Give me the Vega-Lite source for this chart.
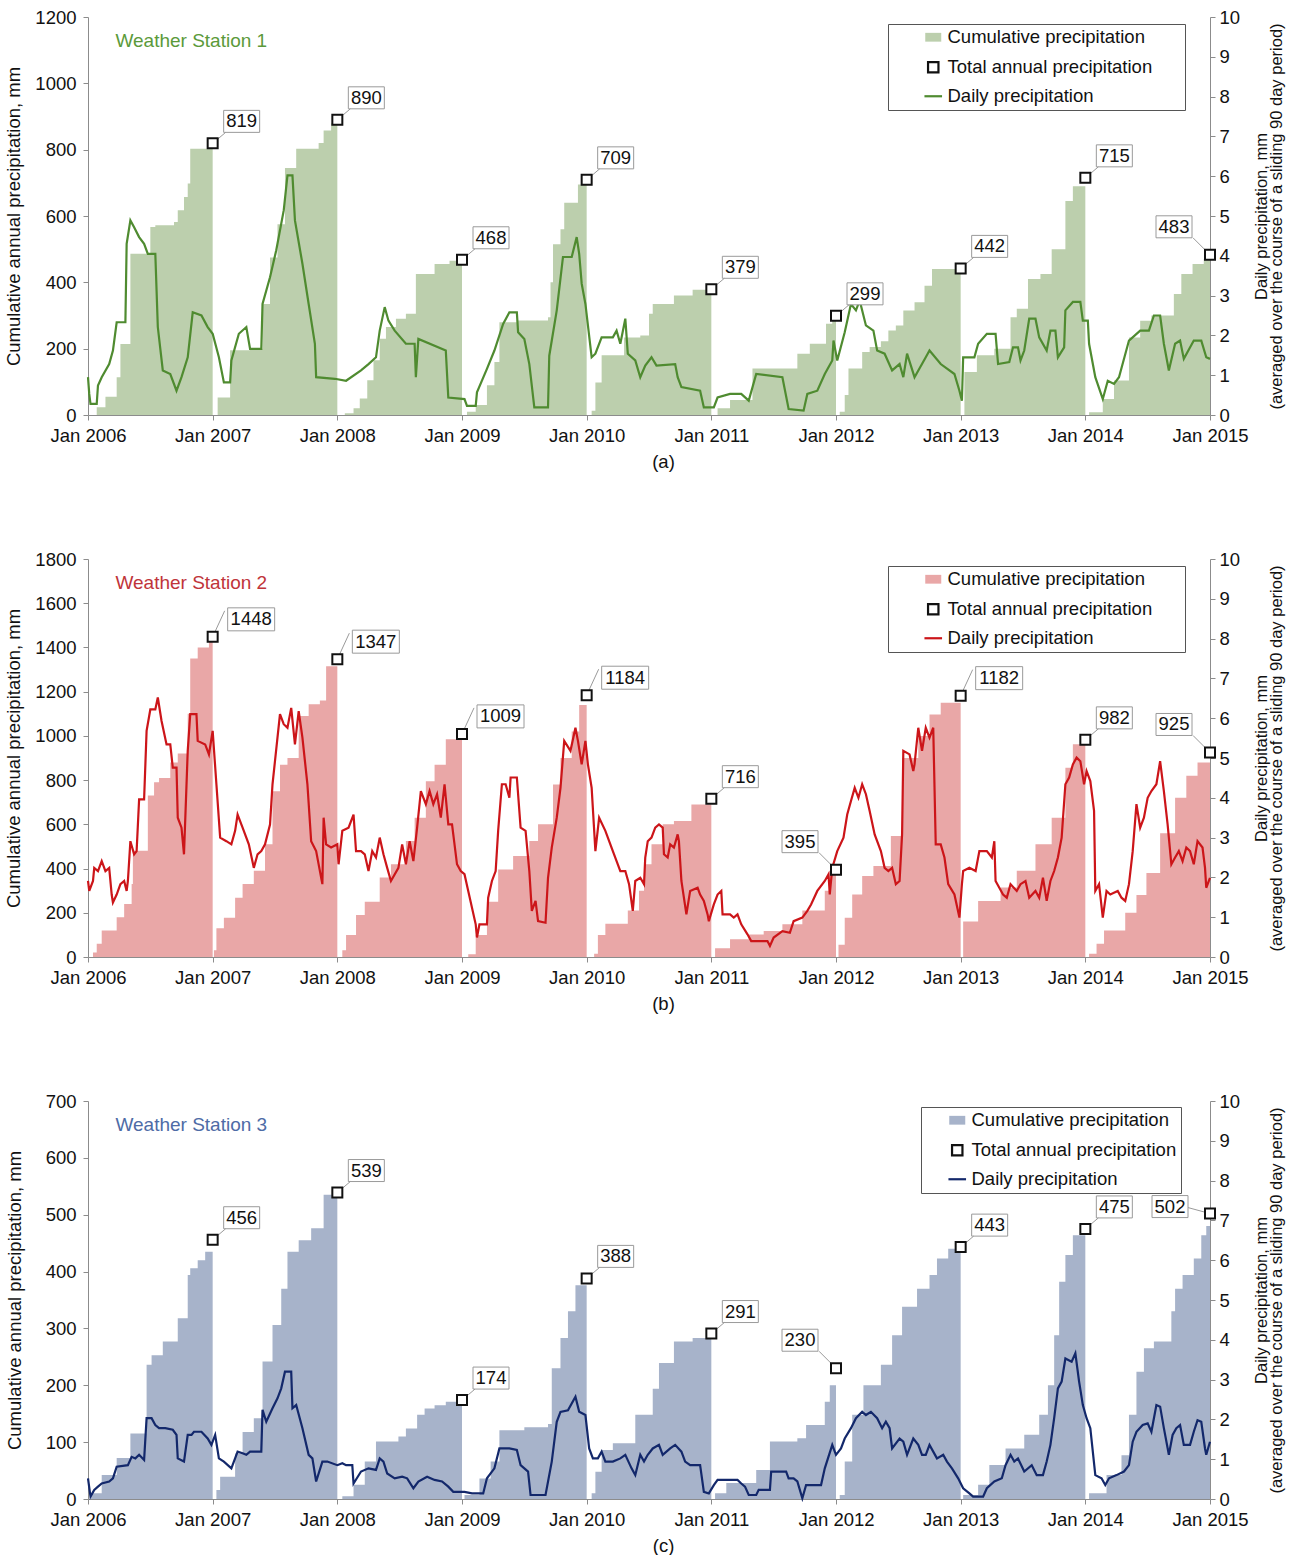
{
"$schema": "https://vega.github.io/schema/vega-lite/v6.json",
"padding": {"left": 4, "top": 8, "right": 0, "bottom": 0},
"spacing": 79,
"config": {
  "view": {"stroke": null},
  "font": "Liberation Sans",
  "axis": {"grid": false, "domainColor": "#8c8c8c", "tickColor": "#8c8c8c", "tickSize": 5, "labelFontSize": 18.5, "titleFontSize": 18.5, "labelColor": "#111111", "titleColor": "#111111", "titleFontWeight": "normal", "labelFont": "Liberation Sans", "titleFont": "Liberation Sans"},
  "legend": {"title": null, "labelFontSize": 18.5, "labelFont": "Liberation Sans", "labelColor": "#111111", "labelLimit": 600, "strokeColor": "#555555", "fillColor": "white", "padding": 4, "rowPadding": 10, "symbolSize": 256, "labelOffset": 5}
},
"datasets": {
"tot": [
{"s":1,"t":2007,"v":819},{"s":1,"t":2008,"v":890},{"s":1,"t":2009,"v":468},{"s":1,"t":2010,"v":709},{"s":1,"t":2011,"v":379},{"s":1,"t":2012,"v":299},{"s":1,"t":2013,"v":442},{"s":1,"t":2014,"v":715},{"s":1,"t":2015,"v":483},
{"s":2,"t":2007,"v":1448},{"s":2,"t":2008,"v":1347},{"s":2,"t":2009,"v":1009},{"s":2,"t":2010,"v":1184},{"s":2,"t":2011,"v":716},{"s":2,"t":2012,"v":395},{"s":2,"t":2013,"v":1182},{"s":2,"t":2014,"v":982},{"s":2,"t":2015,"v":925},
{"s":3,"t":2007,"v":456},{"s":3,"t":2008,"v":539},{"s":3,"t":2009,"v":174},{"s":3,"t":2010,"v":388},{"s":3,"t":2011,"v":291},{"s":3,"t":2012,"v":230},{"s":3,"t":2013,"v":443},{"s":3,"t":2014,"v":475},{"s":3,"t":2015,"v":502}
],
"cum": [
{"s":1,"t":2006,"c":0},{"s":1,"t":2006.07,"c":23},{"s":1,"t":2006.14,"c":55},{"s":1,"t":2006.23,"c":114},{"s":1,"t":2006.26,"c":214},{"s":1,"t":2006.34,"c":486},{"s":1,"t":2006.5,"c":567},{"s":1,"t":2006.54,"c":572},{"s":1,"t":2006.69,"c":582},{"s":1,"t":2006.72,"c":617},{"s":1,"t":2006.77,"c":657},{"s":1,"t":2006.8,"c":698},{"s":1,"t":2006.82,"c":803},
{"s":1,"t":2007,"c":0},{"s":1,"t":2007.04,"c":53},{"s":1,"t":2007.14,"c":195},{"s":1,"t":2007.3,"c":200},{"s":1,"t":2007.4,"c":335},{"s":1,"t":2007.46,"c":475},{"s":1,"t":2007.52,"c":575},{"s":1,"t":2007.58,"c":745},{"s":1,"t":2007.67,"c":803},{"s":1,"t":2007.85,"c":820},{"s":1,"t":2007.89,"c":858},{"s":1,"t":2007.95,"c":880},{"s":1,"t":2007.98,"c":890},
{"s":1,"t":2008,"c":0},{"s":1,"t":2008.06,"c":5},{"s":1,"t":2008.13,"c":20},{"s":1,"t":2008.18,"c":50},{"s":1,"t":2008.24,"c":105},{"s":1,"t":2008.29,"c":165},{"s":1,"t":2008.34,"c":230},{"s":1,"t":2008.39,"c":265},{"s":1,"t":2008.47,"c":290},{"s":1,"t":2008.55,"c":305},{"s":1,"t":2008.63,"c":425},{"s":1,"t":2008.78,"c":455},{"s":1,"t":2008.9,"c":465},
{"s":1,"t":2009,"c":0},{"s":1,"t":2009.04,"c":10},{"s":1,"t":2009.11,"c":30},{"s":1,"t":2009.2,"c":90},{"s":1,"t":2009.26,"c":160},{"s":1,"t":2009.3,"c":280},{"s":1,"t":2009.44,"c":285},{"s":1,"t":2009.69,"c":295},{"s":1,"t":2009.71,"c":400},{"s":1,"t":2009.73,"c":515},{"s":1,"t":2009.79,"c":560},{"s":1,"t":2009.82,"c":640},{"s":1,"t":2009.93,"c":695},{"s":1,"t":2009.97,"c":700},
{"s":1,"t":2010,"c":0},{"s":1,"t":2010.04,"c":13},{"s":1,"t":2010.07,"c":98},{"s":1,"t":2010.12,"c":180},{"s":1,"t":2010.3,"c":234},{"s":1,"t":2010.43,"c":240},{"s":1,"t":2010.5,"c":305},{"s":1,"t":2010.53,"c":335},{"s":1,"t":2010.7,"c":360},{"s":1,"t":2010.85,"c":378},
{"s":1,"t":2011,"c":0},{"s":1,"t":2011.05,"c":20},{"s":1,"t":2011.15,"c":45},{"s":1,"t":2011.33,"c":140},{"s":1,"t":2011.69,"c":185},{"s":1,"t":2011.79,"c":215},{"s":1,"t":2011.92,"c":275},{"s":1,"t":2011.97,"c":300},
{"s":1,"t":2012,"c":0},{"s":1,"t":2012.03,"c":10},{"s":1,"t":2012.07,"c":60},{"s":1,"t":2012.1,"c":140},{"s":1,"t":2012.21,"c":190},{"s":1,"t":2012.27,"c":205},{"s":1,"t":2012.36,"c":222},{"s":1,"t":2012.42,"c":255},{"s":1,"t":2012.48,"c":270},{"s":1,"t":2012.54,"c":315},{"s":1,"t":2012.63,"c":340},{"s":1,"t":2012.71,"c":390},{"s":1,"t":2012.77,"c":440},
{"s":1,"t":2013,"c":0},{"s":1,"t":2013.03,"c":130},{"s":1,"t":2013.13,"c":180},{"s":1,"t":2013.27,"c":200},{"s":1,"t":2013.4,"c":295},{"s":1,"t":2013.45,"c":320},{"s":1,"t":2013.54,"c":410},{"s":1,"t":2013.64,"c":425},{"s":1,"t":2013.73,"c":500},{"s":1,"t":2013.84,"c":645},{"s":1,"t":2013.9,"c":690},
{"s":1,"t":2014,"c":0},{"s":1,"t":2014.03,"c":8},{"s":1,"t":2014.14,"c":48},{"s":1,"t":2014.23,"c":104},{"s":1,"t":2014.35,"c":234},{"s":1,"t":2014.44,"c":284},{"s":1,"t":2014.53,"c":300},{"s":1,"t":2014.71,"c":365},{"s":1,"t":2014.77,"c":425},{"s":1,"t":2014.86,"c":455},{"s":1,"t":2014.95,"c":470},{"s":1,"t":2015,"c":475},
{"s":2,"t":2006,"c":0},{"s":2,"t":2006.04,"c":20},{"s":2,"t":2006.07,"c":60},{"s":2,"t":2006.11,"c":120},{"s":2,"t":2006.23,"c":180},{"s":2,"t":2006.29,"c":240},{"s":2,"t":2006.35,"c":330},{"s":2,"t":2006.36,"c":480},{"s":2,"t":2006.48,"c":730},{"s":2,"t":2006.53,"c":790},{"s":2,"t":2006.57,"c":810},{"s":2,"t":2006.66,"c":880},{"s":2,"t":2006.72,"c":920},{"s":2,"t":2006.8,"c":1100},{"s":2,"t":2006.82,"c":1350},{"s":2,"t":2006.88,"c":1400},{"s":2,"t":2006.97,"c":1430},
{"s":2,"t":2007,"c":0},{"s":2,"t":2007.01,"c":30},{"s":2,"t":2007.03,"c":130},{"s":2,"t":2007.09,"c":178},{"s":2,"t":2007.18,"c":268},{"s":2,"t":2007.24,"c":330},{"s":2,"t":2007.33,"c":390},{"s":2,"t":2007.42,"c":510},{"s":2,"t":2007.48,"c":750},{"s":2,"t":2007.54,"c":870},{"s":2,"t":2007.6,"c":900},{"s":2,"t":2007.69,"c":1090},{"s":2,"t":2007.77,"c":1143},{"s":2,"t":2007.86,"c":1160},{"s":2,"t":2007.91,"c":1315},
{"s":2,"t":2008,"c":0},{"s":2,"t":2008.04,"c":30},{"s":2,"t":2008.07,"c":100},{"s":2,"t":2008.15,"c":190},{"s":2,"t":2008.22,"c":250},{"s":2,"t":2008.34,"c":360},{"s":2,"t":2008.43,"c":420},{"s":2,"t":2008.55,"c":525},{"s":2,"t":2008.62,"c":630},{"s":2,"t":2008.71,"c":795},{"s":2,"t":2008.78,"c":870},{"s":2,"t":2008.87,"c":985},
{"s":2,"t":2009,"c":0},{"s":2,"t":2009.05,"c":12},{"s":2,"t":2009.11,"c":100},{"s":2,"t":2009.2,"c":250},{"s":2,"t":2009.29,"c":396},{"s":2,"t":2009.41,"c":457},{"s":2,"t":2009.54,"c":525},{"s":2,"t":2009.61,"c":600},{"s":2,"t":2009.73,"c":780},{"s":2,"t":2009.79,"c":900},{"s":2,"t":2009.88,"c":1020},{"s":2,"t":2009.94,"c":1140},
{"s":2,"t":2010,"c":0},{"s":2,"t":2010.06,"c":15},{"s":2,"t":2010.09,"c":100},{"s":2,"t":2010.15,"c":150},{"s":2,"t":2010.33,"c":210},{"s":2,"t":2010.42,"c":300},{"s":2,"t":2010.46,"c":420},{"s":2,"t":2010.52,"c":510},{"s":2,"t":2010.61,"c":600},{"s":2,"t":2010.7,"c":615},{"s":2,"t":2010.84,"c":690},
{"s":2,"t":2011,"c":0},{"s":2,"t":2011.03,"c":40},{"s":2,"t":2011.15,"c":80},{"s":2,"t":2011.3,"c":102},{"s":2,"t":2011.42,"c":118},{"s":2,"t":2011.57,"c":148},{"s":2,"t":2011.73,"c":210},{"s":2,"t":2011.91,"c":300},{"s":2,"t":2011.95,"c":390},
{"s":2,"t":2012,"c":0},{"s":2,"t":2012.02,"c":55},{"s":2,"t":2012.07,"c":178},{"s":2,"t":2012.13,"c":283},{"s":2,"t":2012.21,"c":366},{"s":2,"t":2012.3,"c":412},{"s":2,"t":2012.44,"c":547},{"s":2,"t":2012.53,"c":900},{"s":2,"t":2012.66,"c":1000},{"s":2,"t":2012.75,"c":1097},{"s":2,"t":2012.84,"c":1150},
{"s":2,"t":2013,"c":0},{"s":2,"t":2013.02,"c":160},{"s":2,"t":2013.14,"c":253},{"s":2,"t":2013.32,"c":314},{"s":2,"t":2013.45,"c":390},{"s":2,"t":2013.6,"c":510},{"s":2,"t":2013.73,"c":630},{"s":2,"t":2013.84,"c":856},{"s":2,"t":2013.9,"c":962},
{"s":2,"t":2014,"c":0},{"s":2,"t":2014.03,"c":15},{"s":2,"t":2014.09,"c":60},{"s":2,"t":2014.15,"c":120},{"s":2,"t":2014.32,"c":200},{"s":2,"t":2014.41,"c":280},{"s":2,"t":2014.49,"c":380},{"s":2,"t":2014.6,"c":560},{"s":2,"t":2014.72,"c":720},{"s":2,"t":2014.81,"c":820},{"s":2,"t":2014.9,"c":880},{"s":2,"t":2015,"c":900},
{"s":3,"t":2006,"c":0},{"s":3,"t":2006.02,"c":10},{"s":3,"t":2006.11,"c":42},{"s":3,"t":2006.23,"c":72},{"s":3,"t":2006.34,"c":115},{"s":3,"t":2006.47,"c":236},{"s":3,"t":2006.51,"c":253},{"s":3,"t":2006.6,"c":277},{"s":3,"t":2006.72,"c":318},{"s":3,"t":2006.8,"c":394},{"s":3,"t":2006.82,"c":406},{"s":3,"t":2006.88,"c":420},{"s":3,"t":2006.94,"c":435},
{"s":3,"t":2007,"c":0},{"s":3,"t":2007.03,"c":16},{"s":3,"t":2007.06,"c":39},{"s":3,"t":2007.18,"c":80},{"s":3,"t":2007.24,"c":118},{"s":3,"t":2007.33,"c":142},{"s":3,"t":2007.4,"c":242},{"s":3,"t":2007.48,"c":306},{"s":3,"t":2007.55,"c":370},{"s":3,"t":2007.6,"c":435},{"s":3,"t":2007.69,"c":455},{"s":3,"t":2007.79,"c":476},{"s":3,"t":2007.89,"c":535},
{"s":3,"t":2008,"c":0},{"s":3,"t":2008.04,"c":5},{"s":3,"t":2008.13,"c":25},{"s":3,"t":2008.22,"c":66},{"s":3,"t":2008.31,"c":101},{"s":3,"t":2008.49,"c":110},{"s":3,"t":2008.55,"c":124},{"s":3,"t":2008.64,"c":148},{"s":3,"t":2008.7,"c":159},{"s":3,"t":2008.78,"c":165},{"s":3,"t":2008.87,"c":171},
{"s":3,"t":2009,"c":0},{"s":3,"t":2009.02,"c":7},{"s":3,"t":2009.14,"c":36},{"s":3,"t":2009.23,"c":66},{"s":3,"t":2009.3,"c":121},{"s":3,"t":2009.5,"c":126},{"s":3,"t":2009.69,"c":132},{"s":3,"t":2009.72,"c":230},{"s":3,"t":2009.79,"c":283},{"s":3,"t":2009.85,"c":330},{"s":3,"t":2009.91,"c":376},
{"s":3,"t":2010,"c":0},{"s":3,"t":2010.04,"c":10},{"s":3,"t":2010.07,"c":48},{"s":3,"t":2010.12,"c":86},{"s":3,"t":2010.21,"c":98},{"s":3,"t":2010.39,"c":148},{"s":3,"t":2010.53,"c":194},{"s":3,"t":2010.58,"c":239},{"s":3,"t":2010.7,"c":277},{"s":3,"t":2010.85,"c":283},
{"s":3,"t":2011,"c":0},{"s":3,"t":2011.03,"c":10},{"s":3,"t":2011.12,"c":28},{"s":3,"t":2011.36,"c":51},{"s":3,"t":2011.47,"c":101},{"s":3,"t":2011.69,"c":107},{"s":3,"t":2011.76,"c":130},{"s":3,"t":2011.91,"c":171},{"s":3,"t":2011.95,"c":200},
{"s":3,"t":2012,"c":0},{"s":3,"t":2012.03,"c":7},{"s":3,"t":2012.07,"c":66},{"s":3,"t":2012.13,"c":148},{"s":3,"t":2012.22,"c":200},{"s":3,"t":2012.36,"c":236},{"s":3,"t":2012.45,"c":288},{"s":3,"t":2012.53,"c":338},{"s":3,"t":2012.65,"c":370},{"s":3,"t":2012.75,"c":394},{"s":3,"t":2012.81,"c":423},{"s":3,"t":2012.9,"c":440},
{"s":3,"t":2013,"c":0},{"s":3,"t":2013.02,"c":7},{"s":3,"t":2013.14,"c":25},{"s":3,"t":2013.23,"c":60},{"s":3,"t":2013.36,"c":89},{"s":3,"t":2013.51,"c":113},{"s":3,"t":2013.63,"c":148},{"s":3,"t":2013.7,"c":200},{"s":3,"t":2013.75,"c":288},{"s":3,"t":2013.79,"c":382},{"s":3,"t":2013.84,"c":429},{"s":3,"t":2013.9,"c":464},
{"s":3,"t":2014,"c":0},{"s":3,"t":2014.03,"c":10},{"s":3,"t":2014.17,"c":42},{"s":3,"t":2014.29,"c":77},{"s":3,"t":2014.35,"c":148},{"s":3,"t":2014.41,"c":224},{"s":3,"t":2014.47,"c":265},{"s":3,"t":2014.55,"c":277},{"s":3,"t":2014.69,"c":330},{"s":3,"t":2014.72,"c":370},{"s":3,"t":2014.78,"c":394},{"s":3,"t":2014.87,"c":423},{"s":3,"t":2014.93,"c":464},{"s":3,"t":2014.97,"c":480},{"s":3,"t":2015,"c":485}
],
"daily": [
{"s":1,"t":2006,"p":0.95},{"s":1,"t":2006.01,"p":0.53},{"s":1,"t":2006.02,"p":0.28},{"s":1,"t":2006.07,"p":0.28},{"s":1,"t":2006.08,"p":0.74},{"s":1,"t":2006.11,"p":0.95},{"s":1,"t":2006.17,"p":1.28},{"s":1,"t":2006.2,"p":1.62},{"s":1,"t":2006.23,"p":2.33},{"s":1,"t":2006.3,"p":2.33},{"s":1,"t":2006.31,"p":4.3},{"s":1,"t":2006.34,"p":4.89},{"s":1,"t":2006.37,"p":4.72},{"s":1,"t":2006.41,"p":4.47},{"s":1,"t":2006.45,"p":4.3},{"s":1,"t":2006.48,"p":4.05},{"s":1,"t":2006.54,"p":4.05},{"s":1,"t":2006.56,"p":2.21},{"s":1,"t":2006.6,"p":1.12},{"s":1,"t":2006.66,"p":1.03},{"s":1,"t":2006.71,"p":0.61},{"s":1,"t":2006.75,"p":0.95},{"s":1,"t":2006.8,"p":1.45},{"s":1,"t":2006.84,"p":2.58},{"s":1,"t":2006.91,"p":2.5},{"s":1,"t":2006.96,"p":2.21},{"s":1,"t":2007,"p":2.04},{"s":1,"t":2007.05,"p":1.45},{"s":1,"t":2007.09,"p":0.82},{"s":1,"t":2007.14,"p":0.82},{"s":1,"t":2007.15,"p":1.37},{"s":1,"t":2007.21,"p":2.04},{"s":1,"t":2007.27,"p":2.21},{"s":1,"t":2007.3,"p":1.66},{"s":1,"t":2007.39,"p":1.66},{"s":1,"t":2007.4,"p":2.79},{"s":1,"t":2007.46,"p":3.46},{"s":1,"t":2007.51,"p":4.14},{"s":1,"t":2007.57,"p":5.14},{"s":1,"t":2007.6,"p":6.02},{"s":1,"t":2007.64,"p":6.02},{"s":1,"t":2007.66,"p":4.89},{"s":1,"t":2007.72,"p":3.8},{"s":1,"t":2007.77,"p":2.79},{"s":1,"t":2007.82,"p":1.79},{"s":1,"t":2007.83,"p":0.95},{"s":1,"t":2007.98,"p":0.91},{"s":1,"t":2008.07,"p":0.86},{"s":1,"t":2008.19,"p":1.12},{"s":1,"t":2008.25,"p":1.28},{"s":1,"t":2008.31,"p":1.45},{"s":1,"t":2008.34,"p":2.12},{"s":1,"t":2008.38,"p":2.71},{"s":1,"t":2008.41,"p":2.37},{"s":1,"t":2008.46,"p":2.12},{"s":1,"t":2008.55,"p":1.79},{"s":1,"t":2008.62,"p":1.79},{"s":1,"t":2008.63,"p":0.95},{"s":1,"t":2008.65,"p":1.91},{"s":1,"t":2008.87,"p":1.62},{"s":1,"t":2008.89,"p":0.44},{"s":1,"t":2009.02,"p":0.4},{"s":1,"t":2009.04,"p":0.23},{"s":1,"t":2009.11,"p":0.23},{"s":1,"t":2009.12,"p":0.57},{"s":1,"t":2009.2,"p":1.16},{"s":1,"t":2009.26,"p":1.62},{"s":1,"t":2009.33,"p":2.29},{"s":1,"t":2009.38,"p":2.58},{"s":1,"t":2009.44,"p":2.58},{"s":1,"t":2009.45,"p":2.08},{"s":1,"t":2009.5,"p":1.91},{"s":1,"t":2009.54,"p":1.28},{"s":1,"t":2009.58,"p":0.19},{"s":1,"t":2009.69,"p":0.19},{"s":1,"t":2009.7,"p":1.49},{"s":1,"t":2009.76,"p":2.63},{"s":1,"t":2009.81,"p":3.97},{"s":1,"t":2009.88,"p":3.97},{"s":1,"t":2009.92,"p":4.47},{"s":1,"t":2009.94,"p":4.05},{"s":1,"t":2009.96,"p":3.3},{"s":1,"t":2009.99,"p":2.79},{"s":1,"t":2010.04,"p":1.45},{"s":1,"t":2010.07,"p":1.54},{"s":1,"t":2010.12,"p":1.95},{"s":1,"t":2010.21,"p":1.95},{"s":1,"t":2010.24,"p":2.12},{"s":1,"t":2010.27,"p":1.79},{"s":1,"t":2010.31,"p":2.42},{"s":1,"t":2010.33,"p":1.54},{"s":1,"t":2010.39,"p":1.37},{"s":1,"t":2010.43,"p":0.95},{"s":1,"t":2010.47,"p":1.24},{"s":1,"t":2010.52,"p":1.45},{"s":1,"t":2010.56,"p":1.24},{"s":1,"t":2010.71,"p":1.28},{"s":1,"t":2010.73,"p":0.95},{"s":1,"t":2010.76,"p":0.7},{"s":1,"t":2010.91,"p":0.61},{"s":1,"t":2010.94,"p":0.19},{"s":1,"t":2011.02,"p":0.19},{"s":1,"t":2011.05,"p":0.44},{"s":1,"t":2011.15,"p":0.53},{"s":1,"t":2011.24,"p":0.53},{"s":1,"t":2011.3,"p":0.36},{"s":1,"t":2011.36,"p":1.03},{"s":1,"t":2011.57,"p":0.95},{"s":1,"t":2011.62,"p":0.15},{"s":1,"t":2011.74,"p":0.11},{"s":1,"t":2011.77,"p":0.53},{"s":1,"t":2011.85,"p":0.61},{"s":1,"t":2011.91,"p":1.03},{"s":1,"t":2011.97,"p":1.37},{"s":1,"t":2011.98,"p":1.87},{"s":1,"t":2012.01,"p":1.37},{"s":1,"t":2012.07,"p":2.08},{"s":1,"t":2012.12,"p":2.79},{"s":1,"t":2012.16,"p":2.63},{"s":1,"t":2012.19,"p":2.88},{"s":1,"t":2012.24,"p":2.25},{"s":1,"t":2012.3,"p":2.12},{"s":1,"t":2012.33,"p":1.62},{"s":1,"t":2012.39,"p":1.54},{"s":1,"t":2012.45,"p":1.12},{"s":1,"t":2012.51,"p":1.28},{"s":1,"t":2012.54,"p":0.95},{"s":1,"t":2012.57,"p":1.54},{"s":1,"t":2012.63,"p":0.95},{"s":1,"t":2012.72,"p":1.45},{"s":1,"t":2012.75,"p":1.62},{"s":1,"t":2012.84,"p":1.28},{"s":1,"t":2012.95,"p":1.03},{"s":1,"t":2012.99,"p":0.61},{"s":1,"t":2013.01,"p":0.36},{"s":1,"t":2013.02,"p":1.45},{"s":1,"t":2013.11,"p":1.45},{"s":1,"t":2013.14,"p":1.79},{"s":1,"t":2013.21,"p":2.04},{"s":1,"t":2013.28,"p":2.04},{"s":1,"t":2013.3,"p":1.28},{"s":1,"t":2013.39,"p":1.33},{"s":1,"t":2013.42,"p":1.7},{"s":1,"t":2013.46,"p":1.7},{"s":1,"t":2013.48,"p":1.37},{"s":1,"t":2013.51,"p":1.62},{"s":1,"t":2013.55,"p":2.42},{"s":1,"t":2013.6,"p":2.42},{"s":1,"t":2013.63,"p":1.95},{"s":1,"t":2013.69,"p":1.62},{"s":1,"t":2013.72,"p":2.12},{"s":1,"t":2013.76,"p":2.12},{"s":1,"t":2013.78,"p":1.45},{"s":1,"t":2013.83,"p":1.7},{"s":1,"t":2013.84,"p":2.63},{"s":1,"t":2013.9,"p":2.84},{"s":1,"t":2013.96,"p":2.84},{"s":1,"t":2013.98,"p":2.37},{"s":1,"t":2014.02,"p":2.37},{"s":1,"t":2014.03,"p":1.79},{"s":1,"t":2014.08,"p":0.95},{"s":1,"t":2014.14,"p":0.4},{"s":1,"t":2014.18,"p":0.86},{"s":1,"t":2014.23,"p":0.78},{"s":1,"t":2014.27,"p":0.95},{"s":1,"t":2014.35,"p":1.87},{"s":1,"t":2014.44,"p":2.12},{"s":1,"t":2014.51,"p":2.12},{"s":1,"t":2014.55,"p":2.5},{"s":1,"t":2014.6,"p":2.5},{"s":1,"t":2014.63,"p":1.79},{"s":1,"t":2014.67,"p":1.12},{"s":1,"t":2014.72,"p":1.79},{"s":1,"t":2014.76,"p":1.87},{"s":1,"t":2014.79,"p":1.41},{"s":1,"t":2014.87,"p":1.87},{"s":1,"t":2014.93,"p":1.87},{"s":1,"t":2014.97,"p":1.45},{"s":1,"t":2015,"p":1.41},
{"s":2,"t":2006,"p":1.91},{"s":2,"t":2006.01,"p":1.66},{"s":2,"t":2006.04,"p":1.91},{"s":2,"t":2006.05,"p":2.24},{"s":2,"t":2006.08,"p":2.16},{"s":2,"t":2006.11,"p":2.41},{"s":2,"t":2006.14,"p":2.16},{"s":2,"t":2006.17,"p":2.24},{"s":2,"t":2006.19,"p":1.57},{"s":2,"t":2006.2,"p":1.37},{"s":2,"t":2006.23,"p":1.57},{"s":2,"t":2006.26,"p":1.83},{"s":2,"t":2006.29,"p":1.91},{"s":2,"t":2006.31,"p":1.66},{"s":2,"t":2006.32,"p":1.91},{"s":2,"t":2006.34,"p":2.91},{"s":2,"t":2006.37,"p":2.58},{"s":2,"t":2006.39,"p":2.66},{"s":2,"t":2006.41,"p":3.96},{"s":2,"t":2006.45,"p":3.96},{"s":2,"t":2006.47,"p":5.68},{"s":2,"t":2006.5,"p":6.22},{"s":2,"t":2006.54,"p":6.22},{"s":2,"t":2006.56,"p":6.52},{"s":2,"t":2006.59,"p":5.93},{"s":2,"t":2006.63,"p":5.34},{"s":2,"t":2006.66,"p":5.34},{"s":2,"t":2006.68,"p":4.76},{"s":2,"t":2006.71,"p":4.76},{"s":2,"t":2006.72,"p":3.5},{"s":2,"t":2006.75,"p":3.25},{"s":2,"t":2006.77,"p":2.58},{"s":2,"t":2006.8,"p":5.18},{"s":2,"t":2006.82,"p":6.1},{"s":2,"t":2006.87,"p":6.1},{"s":2,"t":2006.88,"p":5.43},{"s":2,"t":2006.94,"p":5.34},{"s":2,"t":2006.97,"p":5.09},{"s":2,"t":2007,"p":5.68},{"s":2,"t":2007.03,"p":4.34},{"s":2,"t":2007.06,"p":3.0},{"s":2,"t":2007.11,"p":2.91},{"s":2,"t":2007.15,"p":2.83},{"s":2,"t":2007.18,"p":3.17},{"s":2,"t":2007.2,"p":3.58},{"s":2,"t":2007.24,"p":3.25},{"s":2,"t":2007.29,"p":2.83},{"s":2,"t":2007.33,"p":2.24},{"s":2,"t":2007.36,"p":2.58},{"s":2,"t":2007.39,"p":2.66},{"s":2,"t":2007.42,"p":2.83},{"s":2,"t":2007.46,"p":3.33},{"s":2,"t":2007.48,"p":4.34},{"s":2,"t":2007.54,"p":6.1},{"s":2,"t":2007.57,"p":5.85},{"s":2,"t":2007.6,"p":5.76},{"s":2,"t":2007.63,"p":6.26},{"s":2,"t":2007.66,"p":5.34},{"s":2,"t":2007.69,"p":6.18},{"s":2,"t":2007.72,"p":5.51},{"s":2,"t":2007.76,"p":4.34},{"s":2,"t":2007.79,"p":2.91},{"s":2,"t":2007.83,"p":2.66},{"s":2,"t":2007.88,"p":1.83},{"s":2,"t":2007.89,"p":3.5},{"s":2,"t":2007.91,"p":2.83},{"s":2,"t":2007.95,"p":2.75},{"s":2,"t":2008,"p":2.83},{"s":2,"t":2008.01,"p":2.33},{"s":2,"t":2008.04,"p":3.17},{"s":2,"t":2008.09,"p":3.25},{"s":2,"t":2008.13,"p":3.58},{"s":2,"t":2008.15,"p":2.66},{"s":2,"t":2008.19,"p":2.66},{"s":2,"t":2008.22,"p":2.58},{"s":2,"t":2008.25,"p":2.16},{"s":2,"t":2008.28,"p":2.66},{"s":2,"t":2008.31,"p":2.5},{"s":2,"t":2008.34,"p":3.0},{"s":2,"t":2008.37,"p":2.58},{"s":2,"t":2008.4,"p":2.24},{"s":2,"t":2008.43,"p":1.91},{"s":2,"t":2008.49,"p":2.24},{"s":2,"t":2008.52,"p":2.83},{"s":2,"t":2008.55,"p":2.33},{"s":2,"t":2008.58,"p":2.91},{"s":2,"t":2008.61,"p":2.41},{"s":2,"t":2008.64,"p":3.25},{"s":2,"t":2008.67,"p":4.17},{"s":2,"t":2008.71,"p":3.84},{"s":2,"t":2008.74,"p":4.17},{"s":2,"t":2008.77,"p":3.84},{"s":2,"t":2008.8,"p":4.09},{"s":2,"t":2008.83,"p":3.5},{"s":2,"t":2008.86,"p":4.34},{"s":2,"t":2008.89,"p":3.33},{"s":2,"t":2008.92,"p":3.33},{"s":2,"t":2008.96,"p":2.33},{"s":2,"t":2008.99,"p":2.16},{"s":2,"t":2009.02,"p":2.08},{"s":2,"t":2009.05,"p":1.66},{"s":2,"t":2009.11,"p":0.82},{"s":2,"t":2009.12,"p":0.49},{"s":2,"t":2009.14,"p":0.82},{"s":2,"t":2009.2,"p":0.82},{"s":2,"t":2009.21,"p":1.49},{"s":2,"t":2009.24,"p":1.91},{"s":2,"t":2009.27,"p":2.16},{"s":2,"t":2009.29,"p":3.17},{"s":2,"t":2009.32,"p":4.34},{"s":2,"t":2009.35,"p":4.34},{"s":2,"t":2009.38,"p":4.0},{"s":2,"t":2009.39,"p":4.51},{"s":2,"t":2009.44,"p":4.51},{"s":2,"t":2009.47,"p":3.25},{"s":2,"t":2009.51,"p":3.17},{"s":2,"t":2009.54,"p":2.16},{"s":2,"t":2009.56,"p":1.16},{"s":2,"t":2009.59,"p":1.41},{"s":2,"t":2009.61,"p":0.9},{"s":2,"t":2009.67,"p":0.86},{"s":2,"t":2009.69,"p":1.99},{"s":2,"t":2009.72,"p":2.75},{"s":2,"t":2009.76,"p":3.5},{"s":2,"t":2009.79,"p":4.25},{"s":2,"t":2009.82,"p":5.43},{"s":2,"t":2009.87,"p":5.18},{"s":2,"t":2009.91,"p":5.76},{"s":2,"t":2009.93,"p":5.43},{"s":2,"t":2009.96,"p":4.84},{"s":2,"t":2009.99,"p":5.43},{"s":2,"t":2010.01,"p":4.84},{"s":2,"t":2010.04,"p":4.25},{"s":2,"t":2010.07,"p":2.66},{"s":2,"t":2010.1,"p":3.5},{"s":2,"t":2010.15,"p":3.17},{"s":2,"t":2010.21,"p":2.66},{"s":2,"t":2010.24,"p":2.41},{"s":2,"t":2010.27,"p":2.16},{"s":2,"t":2010.31,"p":2.16},{"s":2,"t":2010.34,"p":1.83},{"s":2,"t":2010.37,"p":1.16},{"s":2,"t":2010.39,"p":1.91},{"s":2,"t":2010.43,"p":1.99},{"s":2,"t":2010.46,"p":1.83},{"s":2,"t":2010.47,"p":2.5},{"s":2,"t":2010.49,"p":2.91},{"s":2,"t":2010.52,"p":3.0},{"s":2,"t":2010.55,"p":3.25},{"s":2,"t":2010.58,"p":3.33},{"s":2,"t":2010.61,"p":3.25},{"s":2,"t":2010.62,"p":2.58},{"s":2,"t":2010.65,"p":2.5},{"s":2,"t":2010.67,"p":2.83},{"s":2,"t":2010.7,"p":2.75},{"s":2,"t":2010.73,"p":3.08},{"s":2,"t":2010.74,"p":2.91},{"s":2,"t":2010.76,"p":1.91},{"s":2,"t":2010.8,"p":1.07},{"s":2,"t":2010.83,"p":1.66},{"s":2,"t":2010.89,"p":1.74},{"s":2,"t":2010.91,"p":1.57},{"s":2,"t":2010.94,"p":1.41},{"s":2,"t":2010.97,"p":1.07},{"s":2,"t":2010.98,"p":0.9},{"s":2,"t":2011.02,"p":1.32},{"s":2,"t":2011.05,"p":1.57},{"s":2,"t":2011.08,"p":1.66},{"s":2,"t":2011.09,"p":1.07},{"s":2,"t":2011.15,"p":1.07},{"s":2,"t":2011.18,"p":0.99},{"s":2,"t":2011.21,"p":1.07},{"s":2,"t":2011.24,"p":0.82},{"s":2,"t":2011.29,"p":0.57},{"s":2,"t":2011.32,"p":0.4},{"s":2,"t":2011.45,"p":0.4},{"s":2,"t":2011.47,"p":0.28},{"s":2,"t":2011.5,"p":0.49},{"s":2,"t":2011.57,"p":0.65},{"s":2,"t":2011.63,"p":0.61},{"s":2,"t":2011.66,"p":0.9},{"s":2,"t":2011.73,"p":0.99},{"s":2,"t":2011.77,"p":1.16},{"s":2,"t":2011.8,"p":1.32},{"s":2,"t":2011.85,"p":1.66},{"s":2,"t":2011.91,"p":1.91},{"s":2,"t":2011.94,"p":2.08},{"s":2,"t":2011.95,"p":1.57},{"s":2,"t":2011.97,"p":2.24},{"s":2,"t":2012.01,"p":2.66},{"s":2,"t":2012.06,"p":3.0},{"s":2,"t":2012.09,"p":3.58},{"s":2,"t":2012.12,"p":3.92},{"s":2,"t":2012.15,"p":4.25},{"s":2,"t":2012.18,"p":4.0},{"s":2,"t":2012.21,"p":4.34},{"s":2,"t":2012.24,"p":4.09},{"s":2,"t":2012.27,"p":3.67},{"s":2,"t":2012.31,"p":3.08},{"s":2,"t":2012.36,"p":2.66},{"s":2,"t":2012.39,"p":2.24},{"s":2,"t":2012.42,"p":2.16},{"s":2,"t":2012.45,"p":2.24},{"s":2,"t":2012.48,"p":1.83},{"s":2,"t":2012.51,"p":1.91},{"s":2,"t":2012.53,"p":3.08},{"s":2,"t":2012.54,"p":5.18},{"s":2,"t":2012.59,"p":5.09},{"s":2,"t":2012.62,"p":4.67},{"s":2,"t":2012.63,"p":4.84},{"s":2,"t":2012.66,"p":5.76},{"s":2,"t":2012.69,"p":5.18},{"s":2,"t":2012.72,"p":5.76},{"s":2,"t":2012.75,"p":5.51},{"s":2,"t":2012.78,"p":5.76},{"s":2,"t":2012.8,"p":2.83},{"s":2,"t":2012.84,"p":2.83},{"s":2,"t":2012.87,"p":2.5},{"s":2,"t":2012.9,"p":1.83},{"s":2,"t":2012.95,"p":1.57},{"s":2,"t":2012.99,"p":0.99},{"s":2,"t":2013.01,"p":1.83},{"s":2,"t":2013.02,"p":2.16},{"s":2,"t":2013.07,"p":2.24},{"s":2,"t":2013.12,"p":2.16},{"s":2,"t":2013.15,"p":2.66},{"s":2,"t":2013.21,"p":2.66},{"s":2,"t":2013.25,"p":2.5},{"s":2,"t":2013.27,"p":2.91},{"s":2,"t":2013.28,"p":1.91},{"s":2,"t":2013.31,"p":1.74},{"s":2,"t":2013.34,"p":1.57},{"s":2,"t":2013.37,"p":1.49},{"s":2,"t":2013.4,"p":1.83},{"s":2,"t":2013.45,"p":1.66},{"s":2,"t":2013.48,"p":1.83},{"s":2,"t":2013.52,"p":1.91},{"s":2,"t":2013.55,"p":1.49},{"s":2,"t":2013.6,"p":1.66},{"s":2,"t":2013.63,"p":1.49},{"s":2,"t":2013.66,"p":1.99},{"s":2,"t":2013.69,"p":1.41},{"s":2,"t":2013.72,"p":1.91},{"s":2,"t":2013.75,"p":2.16},{"s":2,"t":2013.78,"p":2.5},{"s":2,"t":2013.81,"p":3.0},{"s":2,"t":2013.84,"p":4.34},{"s":2,"t":2013.87,"p":4.51},{"s":2,"t":2013.9,"p":4.84},{"s":2,"t":2013.93,"p":5.01},{"s":2,"t":2013.96,"p":4.92},{"s":2,"t":2013.99,"p":4.34},{"s":2,"t":2014.01,"p":4.67},{"s":2,"t":2014.04,"p":4.42},{"s":2,"t":2014.07,"p":3.67},{"s":2,"t":2014.08,"p":1.66},{"s":2,"t":2014.11,"p":1.83},{"s":2,"t":2014.14,"p":0.99},{"s":2,"t":2014.17,"p":1.66},{"s":2,"t":2014.2,"p":1.57},{"s":2,"t":2014.26,"p":1.66},{"s":2,"t":2014.29,"p":1.49},{"s":2,"t":2014.32,"p":1.41},{"s":2,"t":2014.35,"p":1.83},{"s":2,"t":2014.38,"p":2.66},{"s":2,"t":2014.41,"p":3.84},{"s":2,"t":2014.44,"p":3.25},{"s":2,"t":2014.47,"p":3.5},{"s":2,"t":2014.5,"p":4.0},{"s":2,"t":2014.53,"p":4.17},{"s":2,"t":2014.57,"p":4.34},{"s":2,"t":2014.6,"p":4.92},{"s":2,"t":2014.63,"p":4.17},{"s":2,"t":2014.66,"p":3.33},{"s":2,"t":2014.69,"p":2.33},{"s":2,"t":2014.72,"p":2.5},{"s":2,"t":2014.75,"p":2.66},{"s":2,"t":2014.78,"p":2.41},{"s":2,"t":2014.81,"p":2.75},{"s":2,"t":2014.84,"p":2.66},{"s":2,"t":2014.87,"p":2.33},{"s":2,"t":2014.9,"p":2.91},{"s":2,"t":2014.94,"p":2.75},{"s":2,"t":2014.96,"p":2.24},{"s":2,"t":2014.97,"p":1.74},{"s":2,"t":2015,"p":1.99},
{"s":3,"t":2006,"p":0.52},{"s":3,"t":2006.02,"p":0.06},{"s":3,"t":2006.05,"p":0.23},{"s":3,"t":2006.08,"p":0.31},{"s":3,"t":2006.11,"p":0.39},{"s":3,"t":2006.17,"p":0.44},{"s":3,"t":2006.2,"p":0.52},{"s":3,"t":2006.23,"p":0.81},{"s":3,"t":2006.32,"p":0.85},{"s":3,"t":2006.35,"p":1.06},{"s":3,"t":2006.38,"p":1.02},{"s":3,"t":2006.41,"p":1.11},{"s":3,"t":2006.45,"p":0.98},{"s":3,"t":2006.47,"p":2.03},{"s":3,"t":2006.51,"p":2.03},{"s":3,"t":2006.54,"p":1.86},{"s":3,"t":2006.57,"p":1.78},{"s":3,"t":2006.62,"p":1.78},{"s":3,"t":2006.68,"p":1.74},{"s":3,"t":2006.71,"p":1.61},{"s":3,"t":2006.72,"p":1.02},{"s":3,"t":2006.77,"p":0.94},{"s":3,"t":2006.8,"p":1.61},{"s":3,"t":2006.83,"p":1.61},{"s":3,"t":2006.85,"p":1.69},{"s":3,"t":2006.91,"p":1.69},{"s":3,"t":2006.96,"p":1.52},{"s":3,"t":2006.99,"p":1.36},{"s":3,"t":2007.02,"p":1.61},{"s":3,"t":2007.05,"p":1.02},{"s":3,"t":2007.09,"p":0.94},{"s":3,"t":2007.15,"p":0.77},{"s":3,"t":2007.2,"p":1.19},{"s":3,"t":2007.24,"p":1.15},{"s":3,"t":2007.27,"p":1.11},{"s":3,"t":2007.3,"p":1.19},{"s":3,"t":2007.39,"p":1.19},{"s":3,"t":2007.4,"p":2.24},{"s":3,"t":2007.43,"p":1.94},{"s":3,"t":2007.48,"p":2.28},{"s":3,"t":2007.52,"p":2.53},{"s":3,"t":2007.55,"p":2.78},{"s":3,"t":2007.58,"p":3.2},{"s":3,"t":2007.63,"p":3.2},{"s":3,"t":2007.64,"p":2.28},{"s":3,"t":2007.67,"p":2.36},{"s":3,"t":2007.72,"p":1.78},{"s":3,"t":2007.77,"p":1.11},{"s":3,"t":2007.8,"p":1.02},{"s":3,"t":2007.83,"p":0.44},{"s":3,"t":2007.88,"p":0.94},{"s":3,"t":2007.92,"p":0.94},{"s":3,"t":2008,"p":0.85},{"s":3,"t":2008.04,"p":0.9},{"s":3,"t":2008.07,"p":0.85},{"s":3,"t":2008.12,"p":0.85},{"s":3,"t":2008.13,"p":0.39},{"s":3,"t":2008.19,"p":0.69},{"s":3,"t":2008.25,"p":0.77},{"s":3,"t":2008.31,"p":0.73},{"s":3,"t":2008.34,"p":1.02},{"s":3,"t":2008.37,"p":0.94},{"s":3,"t":2008.4,"p":0.64},{"s":3,"t":2008.46,"p":0.52},{"s":3,"t":2008.52,"p":0.56},{"s":3,"t":2008.56,"p":0.52},{"s":3,"t":2008.61,"p":0.27},{"s":3,"t":2008.65,"p":0.44},{"s":3,"t":2008.72,"p":0.56},{"s":3,"t":2008.78,"p":0.48},{"s":3,"t":2008.84,"p":0.44},{"s":3,"t":2008.89,"p":0.31},{"s":3,"t":2008.93,"p":0.18},{"s":3,"t":2009.02,"p":0.18},{"s":3,"t":2009.08,"p":0.14},{"s":3,"t":2009.17,"p":0.14},{"s":3,"t":2009.2,"p":0.52},{"s":3,"t":2009.26,"p":0.77},{"s":3,"t":2009.3,"p":1.27},{"s":3,"t":2009.38,"p":1.27},{"s":3,"t":2009.44,"p":1.23},{"s":3,"t":2009.47,"p":0.85},{"s":3,"t":2009.53,"p":0.69},{"s":3,"t":2009.55,"p":0.1},{"s":3,"t":2009.67,"p":0.1},{"s":3,"t":2009.72,"p":0.94},{"s":3,"t":2009.76,"p":1.94},{"s":3,"t":2009.79,"p":2.19},{"s":3,"t":2009.85,"p":2.23},{"s":3,"t":2009.91,"p":2.57},{"s":3,"t":2009.94,"p":2.19},{"s":3,"t":2009.99,"p":2.11},{"s":3,"t":2010.02,"p":1.27},{"s":3,"t":2010.05,"p":1.02},{"s":3,"t":2010.09,"p":1.02},{"s":3,"t":2010.12,"p":1.19},{"s":3,"t":2010.15,"p":0.94},{"s":3,"t":2010.21,"p":0.94},{"s":3,"t":2010.27,"p":1.02},{"s":3,"t":2010.31,"p":1.11},{"s":3,"t":2010.36,"p":0.77},{"s":3,"t":2010.39,"p":0.6},{"s":3,"t":2010.43,"p":1.11},{"s":3,"t":2010.46,"p":0.94},{"s":3,"t":2010.49,"p":1.11},{"s":3,"t":2010.53,"p":1.27},{"s":3,"t":2010.58,"p":1.36},{"s":3,"t":2010.61,"p":1.11},{"s":3,"t":2010.64,"p":1.19},{"s":3,"t":2010.67,"p":1.27},{"s":3,"t":2010.71,"p":1.36},{"s":3,"t":2010.76,"p":1.19},{"s":3,"t":2010.79,"p":0.94},{"s":3,"t":2010.83,"p":0.85},{"s":3,"t":2010.91,"p":0.85},{"s":3,"t":2010.94,"p":0.18},{"s":3,"t":2010.98,"p":0.14},{"s":3,"t":2011.02,"p":0.35},{"s":3,"t":2011.05,"p":0.48},{"s":3,"t":2011.21,"p":0.48},{"s":3,"t":2011.24,"p":0.39},{"s":3,"t":2011.27,"p":0.31},{"s":3,"t":2011.3,"p":0.1},{"s":3,"t":2011.36,"p":0.1},{"s":3,"t":2011.38,"p":0.23},{"s":3,"t":2011.47,"p":0.23},{"s":3,"t":2011.48,"p":0.69},{"s":3,"t":2011.6,"p":0.69},{"s":3,"t":2011.62,"p":0.52},{"s":3,"t":2011.66,"p":0.52},{"s":3,"t":2011.69,"p":0.44},{"s":3,"t":2011.73,"p":0.02},{"s":3,"t":2011.76,"p":0.35},{"s":3,"t":2011.88,"p":0.35},{"s":3,"t":2011.91,"p":0.77},{"s":3,"t":2011.97,"p":1.36},{"s":3,"t":2012,"p":1.11},{"s":3,"t":2012.04,"p":1.27},{"s":3,"t":2012.07,"p":1.52},{"s":3,"t":2012.12,"p":1.78},{"s":3,"t":2012.16,"p":2.03},{"s":3,"t":2012.21,"p":2.19},{"s":3,"t":2012.24,"p":2.11},{"s":3,"t":2012.28,"p":2.19},{"s":3,"t":2012.33,"p":2.03},{"s":3,"t":2012.37,"p":1.78},{"s":3,"t":2012.4,"p":1.94},{"s":3,"t":2012.43,"p":1.78},{"s":3,"t":2012.45,"p":1.27},{"s":3,"t":2012.51,"p":1.52},{"s":3,"t":2012.54,"p":1.44},{"s":3,"t":2012.57,"p":1.11},{"s":3,"t":2012.62,"p":1.52},{"s":3,"t":2012.66,"p":1.36},{"s":3,"t":2012.69,"p":1.11},{"s":3,"t":2012.72,"p":1.11},{"s":3,"t":2012.75,"p":1.36},{"s":3,"t":2012.81,"p":1.02},{"s":3,"t":2012.86,"p":1.11},{"s":3,"t":2012.89,"p":0.94},{"s":3,"t":2012.93,"p":0.77},{"s":3,"t":2012.98,"p":0.52},{"s":3,"t":2013.02,"p":0.27},{"s":3,"t":2013.07,"p":0.14},{"s":3,"t":2013.1,"p":0.06},{"s":3,"t":2013.18,"p":0.06},{"s":3,"t":2013.21,"p":0.27},{"s":3,"t":2013.27,"p":0.44},{"s":3,"t":2013.33,"p":0.52},{"s":3,"t":2013.36,"p":0.85},{"s":3,"t":2013.4,"p":1.11},{"s":3,"t":2013.43,"p":0.94},{"s":3,"t":2013.46,"p":1.02},{"s":3,"t":2013.51,"p":0.69},{"s":3,"t":2013.57,"p":0.85},{"s":3,"t":2013.61,"p":0.6},{"s":3,"t":2013.66,"p":0.6},{"s":3,"t":2013.69,"p":0.94},{"s":3,"t":2013.72,"p":1.36},{"s":3,"t":2013.75,"p":2.03},{"s":3,"t":2013.78,"p":2.78},{"s":3,"t":2013.81,"p":2.95},{"s":3,"t":2013.84,"p":3.53},{"s":3,"t":2013.89,"p":3.45},{"s":3,"t":2013.92,"p":3.66},{"s":3,"t":2013.95,"p":2.95},{"s":3,"t":2013.98,"p":2.36},{"s":3,"t":2014.01,"p":2.03},{"s":3,"t":2014.04,"p":1.78},{"s":3,"t":2014.08,"p":0.6},{"s":3,"t":2014.13,"p":0.52},{"s":3,"t":2014.16,"p":0.35},{"s":3,"t":2014.19,"p":0.52},{"s":3,"t":2014.25,"p":0.6},{"s":3,"t":2014.31,"p":0.69},{"s":3,"t":2014.35,"p":0.85},{"s":3,"t":2014.38,"p":1.44},{"s":3,"t":2014.41,"p":1.69},{"s":3,"t":2014.46,"p":1.86},{"s":3,"t":2014.5,"p":1.9},{"s":3,"t":2014.53,"p":1.69},{"s":3,"t":2014.57,"p":2.36},{"s":3,"t":2014.6,"p":2.32},{"s":3,"t":2014.63,"p":1.78},{"s":3,"t":2014.67,"p":1.11},{"s":3,"t":2014.7,"p":1.61},{"s":3,"t":2014.73,"p":1.78},{"s":3,"t":2014.76,"p":1.86},{"s":3,"t":2014.79,"p":1.36},{"s":3,"t":2014.84,"p":1.36},{"s":3,"t":2014.87,"p":1.69},{"s":3,"t":2014.9,"p":1.98},{"s":3,"t":2014.93,"p":1.94},{"s":3,"t":2014.96,"p":1.27},{"s":3,"t":2014.97,"p":1.11},{"s":3,"t":2015,"p":1.44}
]
},
"resolve": {"scale": {"color": "independent"}, "legend": {"color": "independent"}},
"vconcat": [
{
"width": 1122, "height": 398,
"resolve": {"scale": {"y": "independent"}},
"layer": [
 {"data": {"name": "cum"}, "transform": [{"filter": "datum.s == 1"}],
  "mark": {"type": "area", "interpolate": "step-after"},
  "encoding": {
   "x": {"field": "t", "type": "quantitative", "scale": {"domain": [2006, 2015], "nice": false, "zero": false},
         "axis": {"values": [2006,2007,2008,2009,2010,2011,2012,2013,2014,2015], "labelExpr": "'Jan ' + datum.value", "labelFlush": false, "labelOverlap": false, "labelPadding": 6, "title": "(a)", "titlePadding": 8, "titleX": 575}},
   "y": {"field": "c", "type": "quantitative", "scale": {"domain": [0, 1200], "nice": false},
         "axis": {"orient": "left", "values": [0,200,400,600,800,1000,1200], "format": "d", "labelPadding": 7, "labelFlush": false, "title": "Cumulative annual precipitation, mm", "titlePadding": 11}},
   "color": {"datum": "Cumulative precipitation", "type": "nominal",
     "scale": {"domain": ["Cumulative precipitation", "Total annual precipitation", "Daily precipitation"], "range": ["#bccfad", "#111111", "#4f8b30"]},
     "legend": {"orient": "none", "legendX": 800, "legendY": 7, "symbolOffset": 32,
       "labelExpr": "datum.label + '\u2800\u2800'",
       "encode": {"symbols": {"update": {
         "shape": {"signal": "datum.index === 0 ? 'M-1,-0.55H1V0.55H-1Z' : datum.index === 1 ? 'M-0.65,-0.65H0.65V0.65H-0.65Z' : 'M-1.1,0H1.1'"},
         "fillOpacity": {"signal": "datum.index === 0 ? 1 : 0"},
         "strokeWidth": {"signal": "datum.index === 0 ? 0 : 2.2"},
         "opacity": {"value": 1}}}}}}
  }},
 {"data": {"name": "daily"}, "transform": [{"filter": "datum.s == 1"}],
  "mark": {"type": "line", "strokeWidth": 2.2},
  "encoding": {
   "x": {"field": "t", "type": "quantitative", "scale": {"domain": [2006, 2015]}},
   "y": {"field": "p", "type": "quantitative", "scale": {"domain": [0, 10], "nice": false},
         "axis": {"orient": "right", "values": [0,1,2,3,4,5,6,7,8,9,10], "format": "d", "labelPadding": 4, "labelFlush": false,
                  "title": ["Daily precipitation, mm", "(averaged over the course of a sliding 90 day period)"], "titleAngle": 270, "titleFontSize": 16.5, "titleLineHeight": 15, "titlePadding": 15}},
   "color": {"datum": "Daily precipitation", "type": "nominal"}
  }},
 {"data": {"name": "tot"}, "transform": [{"filter": "datum.s == 1 && datum.t < 2015"}],
  "mark": {"type": "point", "shape": "M0,0L13,-11M11,-33H47V-11H11Z", "size": 4, "filled": true, "fill": "#ffffff", "stroke": "#9a9a9a", "strokeWidth": 1, "opacity": 1},
  "encoding": {"x": {"field": "t", "type": "quantitative", "scale": {"domain": [2006, 2015]}}, "y": {"field": "v", "type": "quantitative", "scale": {"domain": [0, 1200]}, "axis": null}}},
 {"data": {"name": "tot"}, "transform": [{"filter": "datum.s == 1 && datum.t == 2015"}],
  "mark": {"type": "point", "shape": "M0,0L-17,-17M-54,-39H-18V-17H-54Z", "size": 4, "filled": true, "fill": "#ffffff", "stroke": "#9a9a9a", "strokeWidth": 1, "opacity": 1},
  "encoding": {"x": {"field": "t", "type": "quantitative", "scale": {"domain": [2006, 2015]}}, "y": {"field": "v", "type": "quantitative", "scale": {"domain": [0, 1200]}, "axis": null}}},
 {"data": {"name": "tot"}, "transform": [{"filter": "datum.s == 1"}],
  "mark": {"type": "point", "shape": "square", "size": 100, "filled": false, "fill": "#ffffff", "strokeWidth": 2, "opacity": 1},
  "encoding": {"x": {"field": "t", "type": "quantitative", "scale": {"domain": [2006, 2015]}}, "y": {"field": "v", "type": "quantitative", "scale": {"domain": [0, 1200]}, "axis": null},
   "color": {"datum": "Total annual precipitation", "type": "nominal"}}},
 {"data": {"name": "tot"}, "transform": [{"filter": "datum.s == 1 && datum.t < 2015"}],
  "mark": {"type": "text", "dx": 29, "dy": -22, "fontSize": 18.5, "color": "#111111"},
  "encoding": {"x": {"field": "t", "type": "quantitative", "scale": {"domain": [2006, 2015]}}, "y": {"field": "v", "type": "quantitative", "scale": {"domain": [0, 1200]}, "axis": null}, "text": {"field": "v", "type": "quantitative", "format": "d"}}},
 {"data": {"name": "tot"}, "transform": [{"filter": "datum.s == 1 && datum.t == 2015"}],
  "mark": {"type": "text", "dx": -36, "dy": -28, "fontSize": 18.5, "color": "#111111"},
  "encoding": {"x": {"field": "t", "type": "quantitative", "scale": {"domain": [2006, 2015]}}, "y": {"field": "v", "type": "quantitative", "scale": {"domain": [0, 1200]}, "axis": null}, "text": {"field": "v", "type": "quantitative", "format": "d"}}},
 {"data": {"values": [{}]},
  "mark": {"type": "text", "text": "Weather Station 1", "align": "left", "baseline": "middle", "fontSize": 19, "color": "#5b9a3a"},
  "encoding": {"x": {"datum": 2006.22, "type": "quantitative", "scale": {"domain": [2006, 2015]}}, "y": {"datum": 9.4, "type": "quantitative", "scale": {"domain": [0, 10]}, "axis": null}}}
]
},
{
"width": 1122, "height": 398,
"resolve": {"scale": {"y": "independent"}},
"layer": [
 {"data": {"name": "cum"}, "transform": [{"filter": "datum.s == 2"}],
  "mark": {"type": "area", "interpolate": "step-after"},
  "encoding": {
   "x": {"field": "t", "type": "quantitative", "scale": {"domain": [2006, 2015], "nice": false, "zero": false},
         "axis": {"values": [2006,2007,2008,2009,2010,2011,2012,2013,2014,2015], "labelExpr": "'Jan ' + datum.value", "labelFlush": false, "labelOverlap": false, "labelPadding": 6, "title": "(b)", "titlePadding": 8, "titleX": 575}},
   "y": {"field": "c", "type": "quantitative", "scale": {"domain": [0, 1800], "nice": false},
         "axis": {"orient": "left", "values": [0,200,400,600,800,1000,1200,1400,1600,1800], "format": "d", "labelPadding": 7, "labelFlush": false, "title": "Cumulative annual precipitation, mm", "titlePadding": 11}},
   "color": {"datum": "Cumulative precipitation", "type": "nominal",
     "scale": {"domain": ["Cumulative precipitation", "Total annual precipitation", "Daily precipitation"], "range": ["#e9a7a7", "#111111", "#cc1519"]},
     "legend": {"orient": "none", "legendX": 800, "legendY": 7, "symbolOffset": 32,
       "labelExpr": "datum.label + '\u2800\u2800'",
       "encode": {"symbols": {"update": {
         "shape": {"signal": "datum.index === 0 ? 'M-1,-0.55H1V0.55H-1Z' : datum.index === 1 ? 'M-0.65,-0.65H0.65V0.65H-0.65Z' : 'M-1.1,0H1.1'"},
         "fillOpacity": {"signal": "datum.index === 0 ? 1 : 0"},
         "strokeWidth": {"signal": "datum.index === 0 ? 0 : 2.2"},
         "opacity": {"value": 1}}}}}}
  }},
 {"data": {"name": "daily"}, "transform": [{"filter": "datum.s == 2"}],
  "mark": {"type": "line", "strokeWidth": 2.2},
  "encoding": {
   "x": {"field": "t", "type": "quantitative", "scale": {"domain": [2006, 2015]}},
   "y": {"field": "p", "type": "quantitative", "scale": {"domain": [0, 10], "nice": false},
         "axis": {"orient": "right", "values": [0,1,2,3,4,5,6,7,8,9,10], "format": "d", "labelPadding": 4, "labelFlush": false,
                  "title": ["Daily precipitation, mm", "(averaged over the course of a sliding 90 day period)"], "titleAngle": 270, "titleFontSize": 16.5, "titleLineHeight": 15, "titlePadding": 15}},
   "color": {"datum": "Daily precipitation", "type": "nominal"}
  }},
 {"data": {"name": "tot"}, "transform": [{"filter": "datum.s == 2 && datum.v >= 1000"}],
  "mark": {"type": "point", "shape": "M0,0L12,-26M15,-29H62V-6H15Z", "size": 4, "filled": true, "fill": "#ffffff", "stroke": "#9a9a9a", "strokeWidth": 1, "opacity": 1},
  "encoding": {"x": {"field": "t", "type": "quantitative", "scale": {"domain": [2006, 2015]}}, "y": {"field": "v", "type": "quantitative", "scale": {"domain": [0, 1800]}, "axis": null}}},
 {"data": {"name": "tot"}, "transform": [{"filter": "datum.s == 2 && datum.v < 1000 && datum.t != 2015 && datum.t != 2012"}],
  "mark": {"type": "point", "shape": "M0,0L13,-11M11,-33H47V-11H11Z", "size": 4, "filled": true, "fill": "#ffffff", "stroke": "#9a9a9a", "strokeWidth": 1, "opacity": 1},
  "encoding": {"x": {"field": "t", "type": "quantitative", "scale": {"domain": [2006, 2015]}}, "y": {"field": "v", "type": "quantitative", "scale": {"domain": [0, 1800]}, "axis": null}}},
 {"data": {"name": "tot"}, "transform": [{"filter": "datum.s == 2 && (datum.t == 2015 || datum.t == 2012)"}],
  "mark": {"type": "point", "shape": "M0,0L-17,-17M-54,-39H-18V-17H-54Z", "size": 4, "filled": true, "fill": "#ffffff", "stroke": "#9a9a9a", "strokeWidth": 1, "opacity": 1},
  "encoding": {"x": {"field": "t", "type": "quantitative", "scale": {"domain": [2006, 2015]}}, "y": {"field": "v", "type": "quantitative", "scale": {"domain": [0, 1800]}, "axis": null}}},
 {"data": {"name": "tot"}, "transform": [{"filter": "datum.s == 2"}],
  "mark": {"type": "point", "shape": "square", "size": 100, "filled": false, "fill": "#ffffff", "strokeWidth": 2, "opacity": 1},
  "encoding": {"x": {"field": "t", "type": "quantitative", "scale": {"domain": [2006, 2015]}}, "y": {"field": "v", "type": "quantitative", "scale": {"domain": [0, 1800]}, "axis": null},
   "color": {"datum": "Total annual precipitation", "type": "nominal"}}},
 {"data": {"name": "tot"}, "transform": [{"filter": "datum.s == 2 && datum.v >= 1000"}],
  "mark": {"type": "text", "dx": 38.5, "dy": -17.5, "fontSize": 18.5, "color": "#111111"},
  "encoding": {"x": {"field": "t", "type": "quantitative", "scale": {"domain": [2006, 2015]}}, "y": {"field": "v", "type": "quantitative", "scale": {"domain": [0, 1800]}, "axis": null}, "text": {"field": "v", "type": "quantitative", "format": "d"}}},
 {"data": {"name": "tot"}, "transform": [{"filter": "datum.s == 2 && datum.v < 1000 && datum.t != 2015 && datum.t != 2012"}],
  "mark": {"type": "text", "dx": 29, "dy": -22, "fontSize": 18.5, "color": "#111111"},
  "encoding": {"x": {"field": "t", "type": "quantitative", "scale": {"domain": [2006, 2015]}}, "y": {"field": "v", "type": "quantitative", "scale": {"domain": [0, 1800]}, "axis": null}, "text": {"field": "v", "type": "quantitative", "format": "d"}}},
 {"data": {"name": "tot"}, "transform": [{"filter": "datum.s == 2 && (datum.t == 2015 || datum.t == 2012)"}],
  "mark": {"type": "text", "dx": -36, "dy": -28, "fontSize": 18.5, "color": "#111111"},
  "encoding": {"x": {"field": "t", "type": "quantitative", "scale": {"domain": [2006, 2015]}}, "y": {"field": "v", "type": "quantitative", "scale": {"domain": [0, 1800]}, "axis": null}, "text": {"field": "v", "type": "quantitative", "format": "d"}}},
 {"data": {"values": [{}]},
  "mark": {"type": "text", "text": "Weather Station 2", "align": "left", "baseline": "middle", "fontSize": 19, "color": "#c0343a"},
  "encoding": {"x": {"datum": 2006.22, "type": "quantitative", "scale": {"domain": [2006, 2015]}}, "y": {"datum": 9.4, "type": "quantitative", "scale": {"domain": [0, 10]}, "axis": null}}}
]
},
{
"width": 1122, "height": 398,
"resolve": {"scale": {"y": "independent"}},
"layer": [
 {"data": {"name": "cum"}, "transform": [{"filter": "datum.s == 3"}],
  "mark": {"type": "area", "interpolate": "step-after"},
  "encoding": {
   "x": {"field": "t", "type": "quantitative", "scale": {"domain": [2006, 2015], "nice": false, "zero": false},
         "axis": {"values": [2006,2007,2008,2009,2010,2011,2012,2013,2014,2015], "labelExpr": "'Jan ' + datum.value", "labelFlush": false, "labelOverlap": false, "labelPadding": 6, "title": "(c)", "titlePadding": 8, "titleX": 575}},
   "y": {"field": "c", "type": "quantitative", "scale": {"domain": [0, 700], "nice": false},
         "axis": {"orient": "left", "values": [0,100,200,300,400,500,600,700], "format": "d", "labelPadding": 7, "labelFlush": false, "title": "Cumulative annual precipitation, mm", "titlePadding": 21}},
   "color": {"datum": "Cumulative precipitation", "type": "nominal",
     "scale": {"domain": ["Cumulative precipitation", "Total annual precipitation", "Daily precipitation"], "range": ["#a7b3ca", "#111111", "#13286b"]},
     "legend": {"orient": "none", "legendX": 833, "legendY": 6, "symbolOffset": 23,
       "labelExpr": "datum.label + '\u00a0'",
       "encode": {"symbols": {"update": {
         "shape": {"signal": "datum.index === 0 ? 'M-1,-0.55H1V0.55H-1Z' : datum.index === 1 ? 'M-0.65,-0.65H0.65V0.65H-0.65Z' : 'M-1.1,0H1.1'"},
         "fillOpacity": {"signal": "datum.index === 0 ? 1 : 0"},
         "strokeWidth": {"signal": "datum.index === 0 ? 0 : 2.2"},
         "opacity": {"value": 1}}}}}}
  }},
 {"data": {"name": "daily"}, "transform": [{"filter": "datum.s == 3"}],
  "mark": {"type": "line", "strokeWidth": 2.2},
  "encoding": {
   "x": {"field": "t", "type": "quantitative", "scale": {"domain": [2006, 2015]}},
   "y": {"field": "p", "type": "quantitative", "scale": {"domain": [0, 10], "nice": false},
         "axis": {"orient": "right", "values": [0,1,2,3,4,5,6,7,8,9,10], "format": "d", "labelPadding": 4, "labelFlush": false,
                  "title": ["Daily precipitation, mm", "(averaged over the course of a sliding 90 day period)"], "titleAngle": 270, "titleFontSize": 16.5, "titleLineHeight": 15, "titlePadding": 15}},
   "color": {"datum": "Daily precipitation", "type": "nominal"}
  }},
 {"data": {"name": "tot"}, "transform": [{"filter": "datum.s == 3 && datum.t != 2015 && datum.t != 2012"}],
  "mark": {"type": "point", "shape": "M0,0L13,-11M11,-33H47V-11H11Z", "size": 4, "filled": true, "fill": "#ffffff", "stroke": "#9a9a9a", "strokeWidth": 1, "opacity": 1},
  "encoding": {"x": {"field": "t", "type": "quantitative", "scale": {"domain": [2006, 2015]}}, "y": {"field": "v", "type": "quantitative", "scale": {"domain": [0, 700]}, "axis": null}}},
 {"data": {"name": "tot"}, "transform": [{"filter": "datum.s == 3 && datum.t == 2012"}],
  "mark": {"type": "point", "shape": "M0,0L-17,-17M-54,-39H-18V-17H-54Z", "size": 4, "filled": true, "fill": "#ffffff", "stroke": "#9a9a9a", "strokeWidth": 1, "opacity": 1},
  "encoding": {"x": {"field": "t", "type": "quantitative", "scale": {"domain": [2006, 2015]}}, "y": {"field": "v", "type": "quantitative", "scale": {"domain": [0, 700]}, "axis": null}}},
 {"data": {"name": "tot"}, "transform": [{"filter": "datum.s == 3 && datum.t == 2015"}],
  "mark": {"type": "point", "shape": "M0,0L-22,-6M-58,-18H-22V4H-58Z", "size": 4, "filled": true, "fill": "#ffffff", "stroke": "#9a9a9a", "strokeWidth": 1, "opacity": 1},
  "encoding": {"x": {"field": "t", "type": "quantitative", "scale": {"domain": [2006, 2015]}}, "y": {"field": "v", "type": "quantitative", "scale": {"domain": [0, 700]}, "axis": null}}},
 {"data": {"name": "tot"}, "transform": [{"filter": "datum.s == 3"}],
  "mark": {"type": "point", "shape": "square", "size": 100, "filled": false, "fill": "#ffffff", "strokeWidth": 2, "opacity": 1},
  "encoding": {"x": {"field": "t", "type": "quantitative", "scale": {"domain": [2006, 2015]}}, "y": {"field": "v", "type": "quantitative", "scale": {"domain": [0, 700]}, "axis": null},
   "color": {"datum": "Total annual precipitation", "type": "nominal"}}},
 {"data": {"name": "tot"}, "transform": [{"filter": "datum.s == 3 && datum.t != 2015 && datum.t != 2012"}],
  "mark": {"type": "text", "dx": 29, "dy": -22, "fontSize": 18.5, "color": "#111111"},
  "encoding": {"x": {"field": "t", "type": "quantitative", "scale": {"domain": [2006, 2015]}}, "y": {"field": "v", "type": "quantitative", "scale": {"domain": [0, 700]}, "axis": null}, "text": {"field": "v", "type": "quantitative", "format": "d"}}},
 {"data": {"name": "tot"}, "transform": [{"filter": "datum.s == 3 && datum.t == 2012"}],
  "mark": {"type": "text", "dx": -36, "dy": -28, "fontSize": 18.5, "color": "#111111"},
  "encoding": {"x": {"field": "t", "type": "quantitative", "scale": {"domain": [2006, 2015]}}, "y": {"field": "v", "type": "quantitative", "scale": {"domain": [0, 700]}, "axis": null}, "text": {"field": "v", "type": "quantitative", "format": "d"}}},
 {"data": {"name": "tot"}, "transform": [{"filter": "datum.s == 3 && datum.t == 2015"}],
  "mark": {"type": "text", "dx": -40, "dy": -7, "fontSize": 18.5, "color": "#111111"},
  "encoding": {"x": {"field": "t", "type": "quantitative", "scale": {"domain": [2006, 2015]}}, "y": {"field": "v", "type": "quantitative", "scale": {"domain": [0, 700]}, "axis": null}, "text": {"field": "v", "type": "quantitative", "format": "d"}}},
 {"data": {"values": [{}]},
  "mark": {"type": "text", "text": "Weather Station 3", "align": "left", "baseline": "middle", "fontSize": 19, "color": "#4e6ba6"},
  "encoding": {"x": {"datum": 2006.22, "type": "quantitative", "scale": {"domain": [2006, 2015]}}, "y": {"datum": 9.4, "type": "quantitative", "scale": {"domain": [0, 10]}, "axis": null}}}
]
}
]
}
